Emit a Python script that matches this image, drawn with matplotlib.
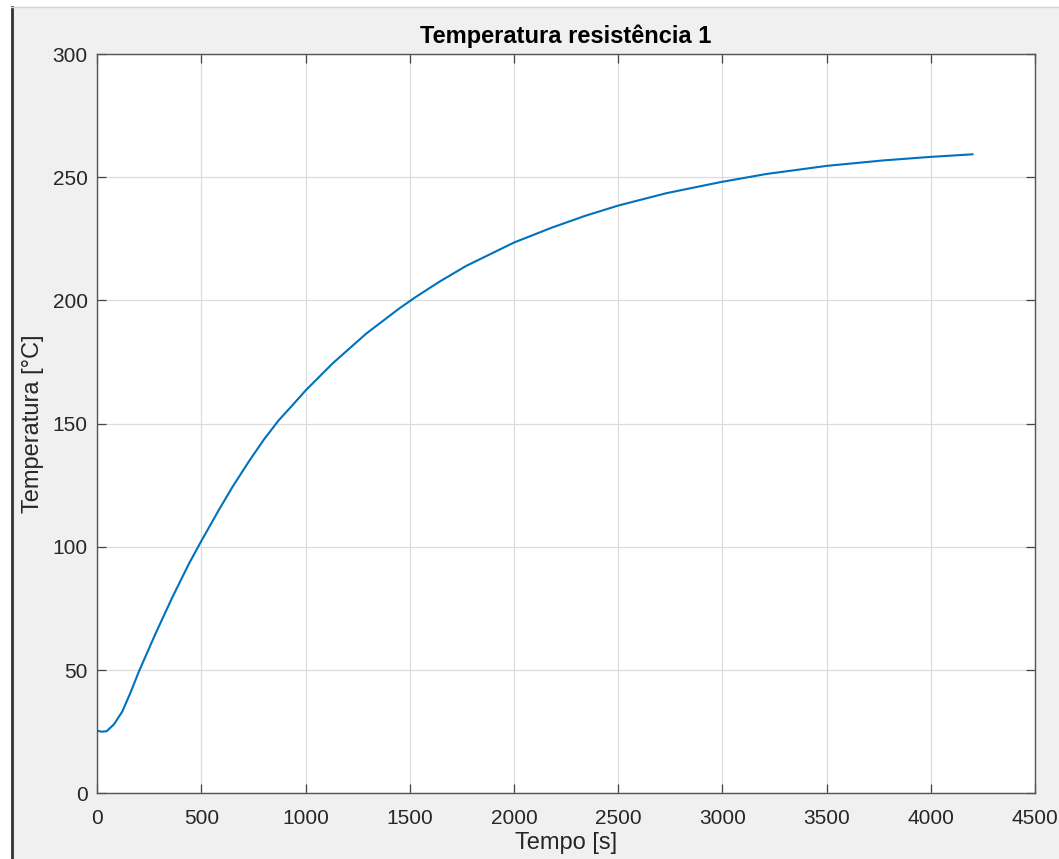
import matplotlib.pyplot as plt
from matplotlib.lines import Line2D

# leituras do gráfico (tempo em s, temperatura em ºC)
tempo = [0, 20, 45, 80, 120, 160, 200, 280, 360, 440, 500, 580, 650, 730,
         800, 870, 940, 1000, 1130, 1290, 1450, 1530, 1640, 1770, 2000, 2180,
         2340, 2500, 2730, 2990, 3210, 3500, 3770, 3990, 4200]
temperatura = [25.4, 25.0, 25.2, 28.0, 33.2, 41.0, 49.5, 64.9, 79.5, 93.2,
               102.5, 114.5, 124.5, 135.0, 143.6, 151.3, 157.8, 163.5, 174.5,
               186.5, 196.8, 201.5, 207.5, 214.0, 223.5, 229.5, 234.3, 238.5,
               243.5, 248.0, 251.3, 254.6, 256.8, 258.2, 259.3]

x_ticks = [0, 500, 1000, 1500, 2000, 2500, 3000, 3500, 4000, 4500]
y_ticks = [0, 50, 100, 150, 200, 250, 300]

plt.rcParams['font.family'] = ['Liberation Sans', 'DejaVu Sans']

fig = plt.figure(figsize=(10.59, 8.59), dpi=100, facecolor='white')
# fundo cinzento da janela + bordas
fig.patches.append(plt.Rectangle((11 / 1059, 0), 1, 1 - 7 / 859, transform=fig.transFigure,
                                 facecolor='#f0f0f0', edgecolor='none', zorder=-10))
fig.lines.append(Line2D([12 / 1059, 12 / 1059], [0, 1 - 7 / 859], transform=fig.transFigure,
                        color='#333333', linewidth=2))
fig.lines.append(Line2D([11 / 1059, 1], [1 - 7 / 859, 1 - 7 / 859], transform=fig.transFigure,
                        color='#d4d4d4', linewidth=1))

ax = fig.add_axes([97.3 / 1059, 65.7 / 859, 937.7 / 1059, 739.3 / 859])
ax.set_facecolor('white')
ax.plot(tempo, temperatura, color='#0072BD', linewidth=1.5)

ax.set_xlim(0, 4500)
ax.set_ylim(0, 300)
ax.set_xticks(x_ticks)
ax.set_yticks(y_ticks)
ax.grid(True, color='#dcdcdc', linewidth=0.9)
ax.set_axisbelow(True)

for s in ax.spines.values():
    s.set_color('#555555')
    s.set_linewidth(1.0)
ax.tick_params(direction='in', length=6.5, width=0.9, color='#444444',
               top=True, right=True, labelsize=15, labelcolor='#262626')
ax.tick_params(axis='x', pad=11)
ax.tick_params(axis='y', pad=7)

ax.set_title('Temperatura resistência 1', fontsize=17, fontweight='bold', pad=8, color='black')
ax.set_xlabel('Tempo [s]', fontsize=17, labelpad=3, color='#262626')
ax.set_ylabel('Temperatura [°C]', fontsize=17, labelpad=6, color='#262626')

fig.savefig('out.png', dpi=100, facecolor=fig.get_facecolor())
